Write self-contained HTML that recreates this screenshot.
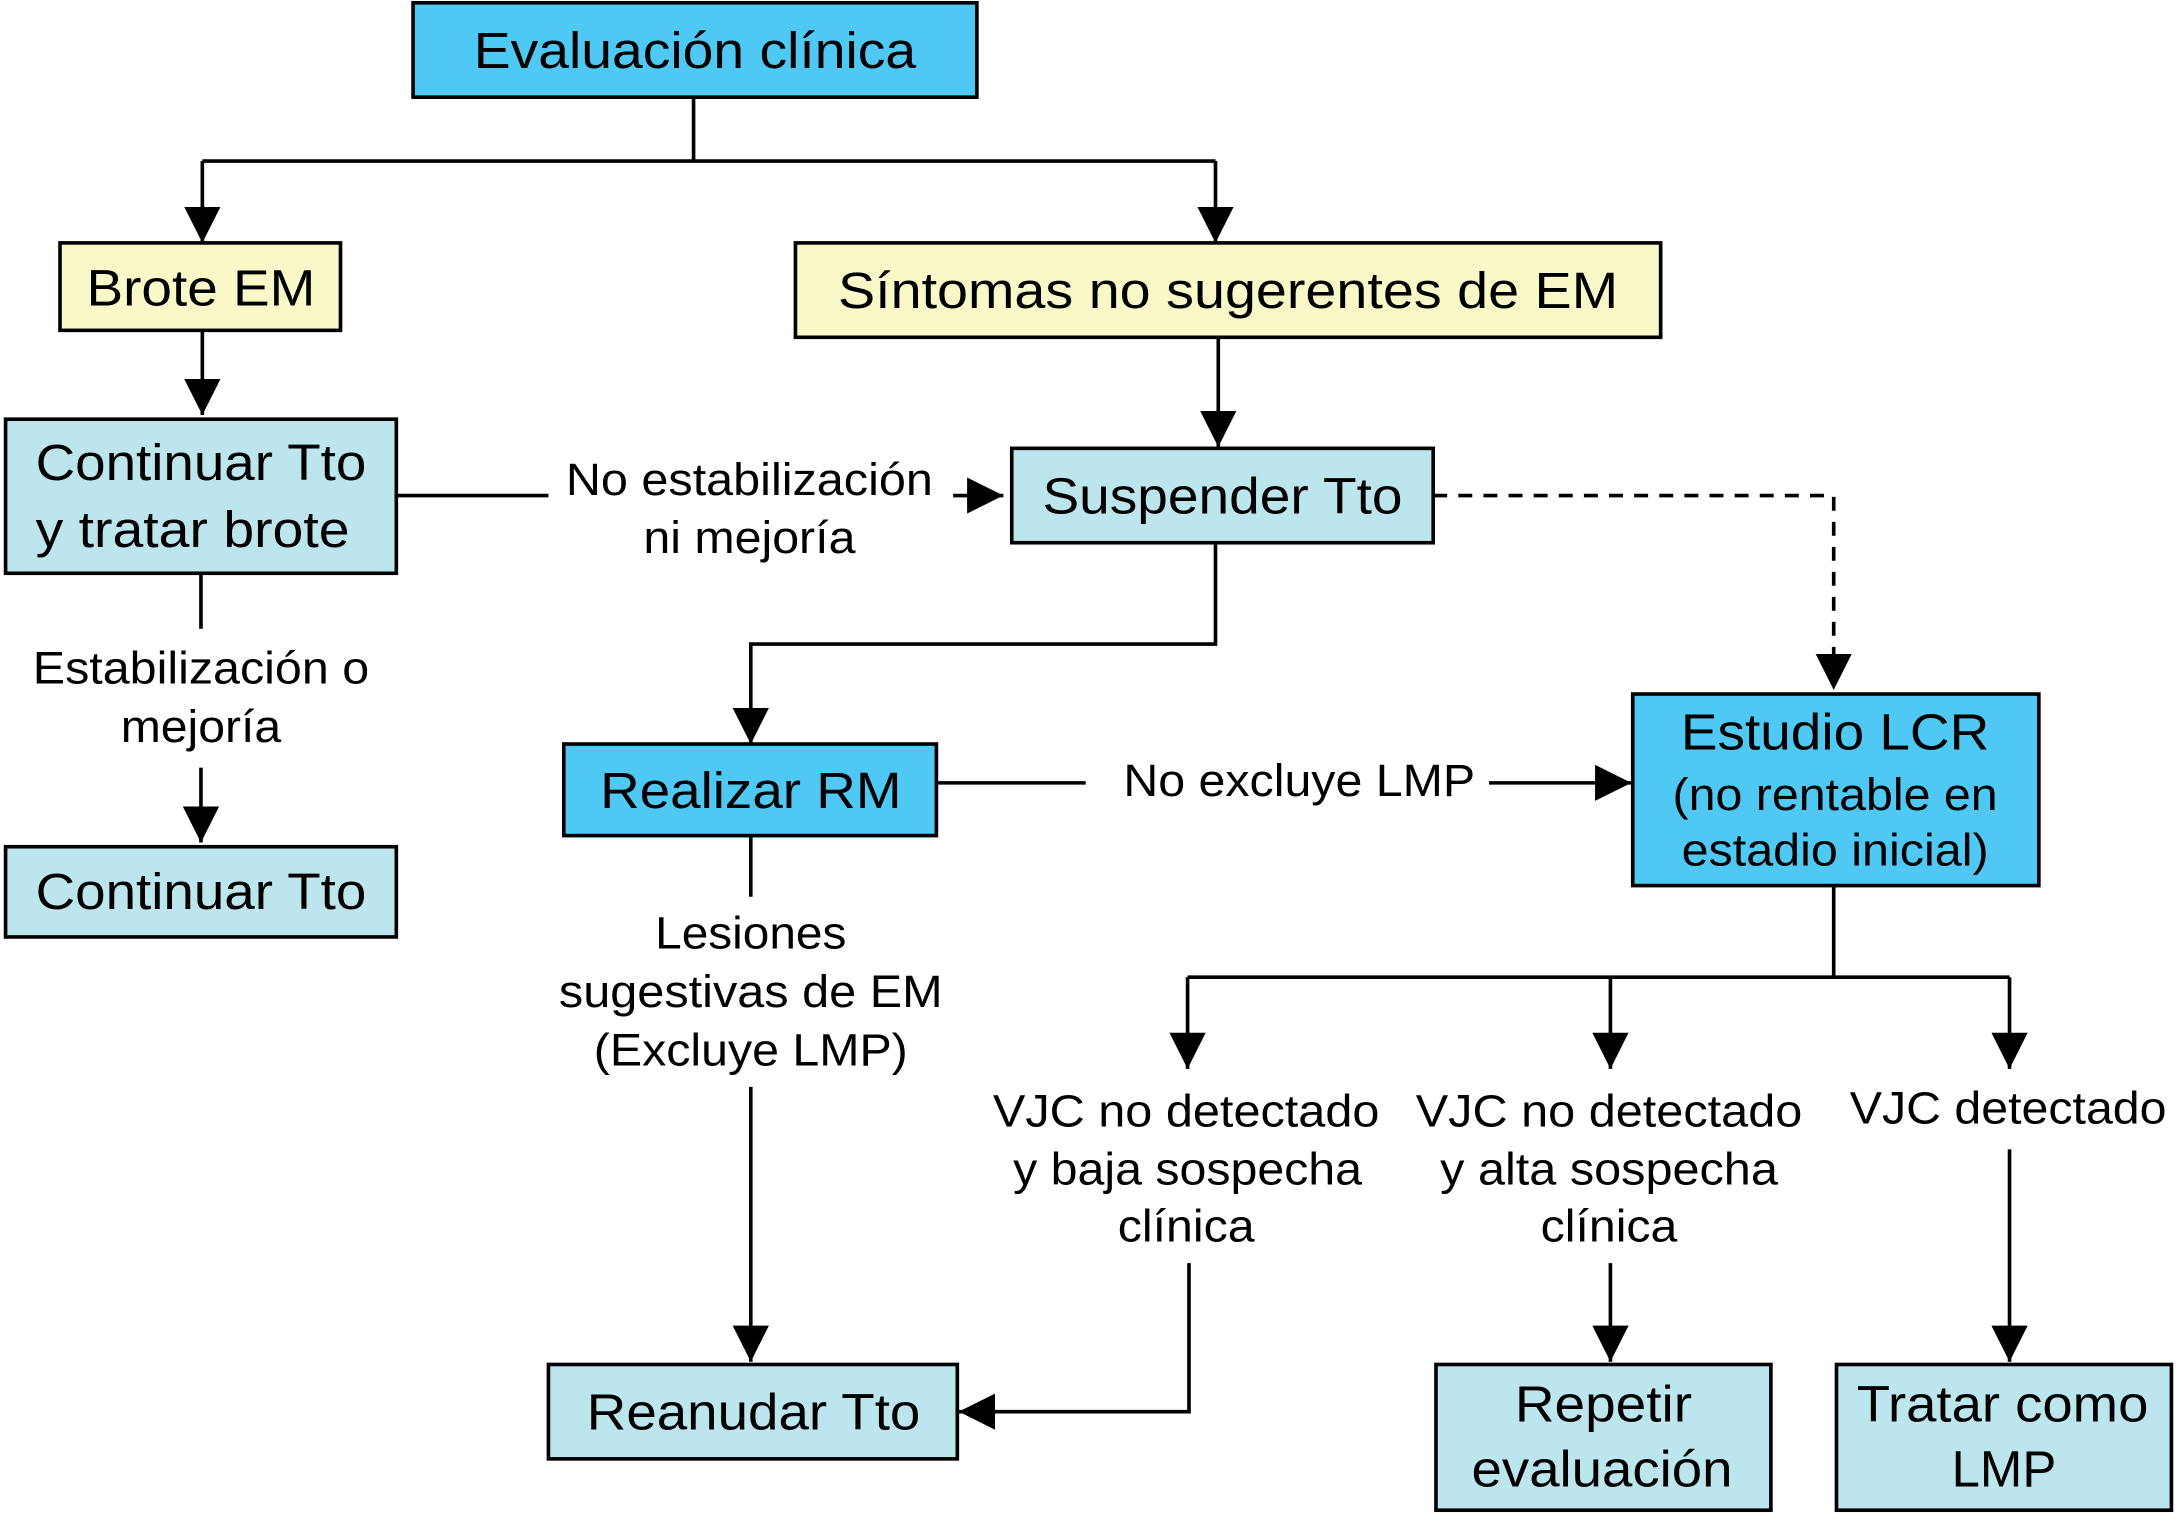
<!DOCTYPE html>
<html><head><meta charset="utf-8"><style>html,body{margin:0;padding:0;background:#fff}svg{display:block}</style></head>
<body>
<svg width="2177" height="1513" viewBox="0 0 1560 1090" preserveAspectRatio="none" xmlns="http://www.w3.org/2000/svg">
<defs>
<marker id="a" markerUnits="userSpaceOnUse" markerWidth="26" markerHeight="26" refX="24" refY="12" orient="auto" viewBox="0 0 24 24"><path d="M0,0 L24,12 L0,24 Z" fill="#000"/></marker>
</defs>
<g stroke="#000" stroke-width="2.6" fill="none">
<!-- boxes -->
<rect x="296" y="2" width="404" height="68" fill="#4fc8f3"/>
<rect x="43" y="175" width="201" height="63" fill="#f8f8c8"/>
<rect x="570" y="175" width="620" height="68" fill="#f8f8c8"/>
<rect x="4" y="302" width="280" height="111" fill="#bde5ee"/>
<rect x="725" y="323" width="302" height="68" fill="#bde5ee"/>
<rect x="4" y="610" width="280" height="65" fill="#bde5ee"/>
<rect x="404" y="536" width="267" height="66" fill="#4fc8f3"/>
<rect x="1170" y="500" width="291" height="138" fill="#4fc8f3"/>
<rect x="393" y="983" width="293" height="68" fill="#bde5ee"/>
<rect x="1029" y="983" width="240" height="105" fill="#bde5ee"/>
<rect x="1316" y="983" width="240" height="105" fill="#bde5ee"/>
<!-- connectors -->
<path d="M497,70 V116 M145,116 H871"/>
<path d="M145,116 V175" marker-end="url(#a)"/>
<path d="M871,116 V175" marker-end="url(#a)"/>
<path d="M145,238 V299" marker-end="url(#a)"/>
<path d="M873,243 V322" marker-end="url(#a)"/>
<path d="M284,357 H393"/>
<path d="M683,357 H719" marker-end="url(#a)"/>
<path d="M1027,357 H1314 V497" stroke-dasharray="10,8" marker-end="url(#a)"/>
<path d="M871,391 V464 H538 V536" marker-end="url(#a)"/>
<path d="M144,413 V453"/>
<path d="M144,553 V607" marker-end="url(#a)"/>
<path d="M671,564 H778"/>
<path d="M1067,564 H1169" marker-end="url(#a)"/>
<path d="M538,602 V646"/>
<path d="M538,783 V981" marker-end="url(#a)"/>
<path d="M1314,638 V704 M851,704 H1440"/>
<path d="M851,704 V770" marker-end="url(#a)"/>
<path d="M1154,704 V770" marker-end="url(#a)"/>
<path d="M1440,704 V770" marker-end="url(#a)"/>
<path d="M852,910 V1017 H687" marker-end="url(#a)"/>
<path d="M1154,910 V981" marker-end="url(#a)"/>
<path d="M1440,828 V981" marker-end="url(#a)"/>
</g>
<g font-family="Liberation Sans, sans-serif" fill="#000" text-anchor="middle" dominant-baseline="central" lengthAdjust="spacingAndGlyphs">
<text x="498" y="36" font-size="37" textLength="317" lengthAdjust="spacingAndGlyphs">Evaluación clínica</text>
<text x="144" y="207" font-size="37" textLength="164" lengthAdjust="spacingAndGlyphs">Brote EM</text>
<text x="880" y="209" font-size="37" textLength="559" lengthAdjust="spacingAndGlyphs">Síntomas no sugerentes de EM</text>
<text x="144" y="333" font-size="37" textLength="237" lengthAdjust="spacingAndGlyphs">Continuar Tto</text>
<text x="138" y="381" font-size="37" textLength="225" lengthAdjust="spacingAndGlyphs">y tratar brote</text>
<text x="537" y="345" font-size="33" textLength="263" lengthAdjust="spacingAndGlyphs">No estabilización</text>
<text x="537" y="387" font-size="33" textLength="152" lengthAdjust="spacingAndGlyphs">ni mejoría</text>
<text x="876" y="357" font-size="37" textLength="258" lengthAdjust="spacingAndGlyphs">Suspender Tto</text>
<text x="144" y="481" font-size="33" textLength="241" lengthAdjust="spacingAndGlyphs">Estabilización o</text>
<text x="144" y="523" font-size="33" textLength="115" lengthAdjust="spacingAndGlyphs">mejoría</text>
<text x="144" y="642" font-size="37" textLength="237" lengthAdjust="spacingAndGlyphs">Continuar Tto</text>
<text x="538" y="569" font-size="37" textLength="216" lengthAdjust="spacingAndGlyphs">Realizar RM</text>
<text x="931" y="562" font-size="33" textLength="252" lengthAdjust="spacingAndGlyphs">No excluye LMP</text>
<text x="1315" y="527" font-size="37" textLength="221" lengthAdjust="spacingAndGlyphs">Estudio LCR</text>
<text x="1315" y="572" font-size="33" textLength="233" lengthAdjust="spacingAndGlyphs">(no rentable en</text>
<text x="1315" y="612" font-size="33" textLength="220" lengthAdjust="spacingAndGlyphs">estadio inicial)</text>
<text x="538" y="672" font-size="33" textLength="137" lengthAdjust="spacingAndGlyphs">Lesiones</text>
<text x="538" y="714" font-size="33" textLength="275" lengthAdjust="spacingAndGlyphs">sugestivas de EM</text>
<text x="538" y="756" font-size="33" textLength="225" lengthAdjust="spacingAndGlyphs">(Excluye LMP)</text>
<text x="540" y="1017" font-size="37" textLength="239" lengthAdjust="spacingAndGlyphs">Reanudar Tto</text>
<text x="850" y="800" font-size="33" textLength="277" lengthAdjust="spacingAndGlyphs">VJC no detectado</text>
<text x="851" y="842" font-size="33" textLength="250" lengthAdjust="spacingAndGlyphs">y baja sospecha</text>
<text x="850" y="883" font-size="33" textLength="98" lengthAdjust="spacingAndGlyphs">clínica</text>
<text x="1153" y="800" font-size="33" textLength="277" lengthAdjust="spacingAndGlyphs">VJC no detectado</text>
<text x="1153" y="842" font-size="33" textLength="242" lengthAdjust="spacingAndGlyphs">y alta sospecha</text>
<text x="1153" y="883" font-size="33" textLength="98" lengthAdjust="spacingAndGlyphs">clínica</text>
<text x="1439" y="798" font-size="33" textLength="227" lengthAdjust="spacingAndGlyphs">VJC detectado</text>
<text x="1149" y="1011" font-size="37" textLength="127" lengthAdjust="spacingAndGlyphs">Repetir</text>
<text x="1148" y="1058" font-size="37" textLength="187" lengthAdjust="spacingAndGlyphs">evaluación</text>
<text x="1435" y="1011" font-size="37" textLength="209" lengthAdjust="spacingAndGlyphs">Tratar como</text>
<text x="1436" y="1058" font-size="37" textLength="75" lengthAdjust="spacingAndGlyphs">LMP</text>
</g>
</svg>
</body></html>
